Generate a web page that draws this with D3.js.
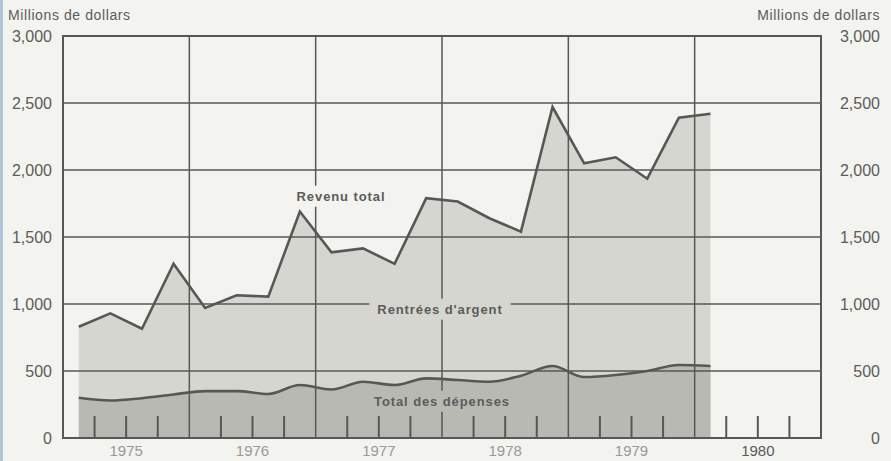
<!DOCTYPE html>
<html>
<head>
<meta charset="utf-8">
<script src="https://cdn.jsdelivr.net/npm/d3@7"></script>
<style>
  html, body { margin: 0; padding: 0; background: #f3f3ef; }
  svg { display: block; }
  text { font-family: "Liberation Sans", Arial, Helvetica, sans-serif; }
</style>
</head>
<body>
<svg id="chart" width="891" height="461"></svg>
<script>
// ---- Data (quarterly, 1975 Q1 – 1980 Q1), millions of dollars ----
const quarters = [
  "1975T1","1975T2","1975T3","1975T4",
  "1976T1","1976T2","1976T3","1976T4",
  "1977T1","1977T2","1977T3","1977T4",
  "1978T1","1978T2","1978T3","1978T4",
  "1979T1","1979T2","1979T3","1979T4",
  "1980T1"
];
const revenuTotal = [830, 930, 815, 1300, 970, 1065, 1055, 1690, 1385, 1415, 1300, 1790,
                     1765, 1640, 1540, 2470, 2050, 2095, 1935, 2390, 2420];
const totalDepenses = [300, 280, 297, 325, 350, 350, 328, 395, 362, 420, 395, 445,
                       433, 420, 465, 537, 455, 470, 500, 545, 537];
const years = [1975, 1976, 1977, 1978, 1979, 1980];
const yTicks = [0, 500, 1000, 1500, 2000, 2500, 3000];
const unitLabel = "Millions de dollars";
const seriesLabels = ["Revenu total", "Rentrées d'argent", "Total des dépenses"];

(function () {
// ---- Layout ----
const svg = d3.select("#chart");
const pL = 63, pR = 821, pT = 36, pB = 438;
const bg = "#f3f3ef", lightFill = "#d6d6d1", darkFill = "#b9b9b4";
const ink = "#575755", textCol = "#5c5c5a";

const x = d3.scaleLinear().domain([1975, 1981]).range([pL, pR]);
const y = d3.scaleLinear().domain([0, 3000]).range([pB, pT]);

// time value of each quarter (mid-quarter)
const tq = quarters.map(q => +q.slice(0, 4) + (+q.slice(5) - 0.5) / 4);
const data = quarters.map((q, i) => ({ t: tq[i], rev: revenuTotal[i], dep: totalDepenses[i] }));

svg.append("rect").attr("width", 891).attr("height", 461).attr("fill", bg);
// scan edge strip on the left
svg.append("rect").attr("x", 0).attr("y", 0).attr("width", 3).attr("height", 461).attr("fill", "#b4c6d6");

// ---- Areas ----
svg.append("path").datum(data)
  .attr("d", d3.area().x(d => x(d.t)).y0(y(0)).y1(d => y(d.rev)))
  .attr("fill", lightFill);
svg.append("path").datum(data)
  .attr("d", d3.area().curve(d3.curveMonotoneX).x(d => x(d.t)).y0(y(0)).y1(d => y(d.dep)))
  .attr("fill", darkFill);

// ---- Grid ----
const grid = svg.append("g").attr("stroke", ink).attr("stroke-width", 1.5);
yTicks.forEach(v => {
  grid.append("line").attr("x1", pL).attr("x2", pR).attr("y1", y(v)).attr("y2", y(v));
});
years.concat([1981]).forEach(yr => {
  grid.append("line").attr("x1", x(yr)).attr("x2", x(yr)).attr("y1", pT).attr("y2", pB);
});
// quarter ticks
years.forEach(yr => {
  [0.25, 0.5, 0.75].forEach(f => {
    grid.append("line").attr("x1", x(yr + f)).attr("x2", x(yr + f))
      .attr("y1", pB).attr("y2", pB - 22).attr("stroke-width", 2);
  });
});
// frame
svg.append("rect").attr("x", pL).attr("y", pT).attr("width", pR - pL).attr("height", pB - pT)
  .attr("fill", "none").attr("stroke", ink).attr("stroke-width", 2);

// ---- Lines ----
svg.append("path").datum(data)
  .attr("d", d3.line().x(d => x(d.t)).y(d => y(d.rev)))
  .attr("fill", "none").attr("stroke", ink).attr("stroke-width", 2.6).attr("stroke-linejoin", "miter");
svg.append("path").datum(data)
  .attr("d", d3.line().curve(d3.curveMonotoneX).x(d => x(d.t)).y(d => y(d.dep)))
  .attr("fill", "none").attr("stroke", ink).attr("stroke-width", 2.6);

// ---- Axis labels ----
const fmt = d3.format(",");
const yl = svg.append("g").attr("fill", textCol).attr("font-size", 16);
yTicks.forEach(v => {
  yl.append("text").attr("x", 52).attr("y", y(v)).attr("dy", "0.36em")
    .attr("text-anchor", "end").text(fmt(v));
  yl.append("text").attr("x", 880).attr("y", y(v)).attr("dy", "0.36em")
    .attr("text-anchor", "end").text(fmt(v));
});
svg.append("text").attr("x", 8).attr("y", 20).attr("font-size", 14).attr("letter-spacing", 0.6)
  .attr("fill", textCol).text(unitLabel);
svg.append("text").attr("x", 880).attr("y", 20).attr("font-size", 14).attr("letter-spacing", 0.6)
  .attr("text-anchor", "end").attr("fill", textCol).text(unitLabel);

years.forEach(yr => {
  svg.append("text").attr("x", x(yr + 0.5)).attr("y", 456).attr("text-anchor", "middle")
    .attr("font-size", 15).attr("fill", yr === 1980 ? "#5a5a58" : "#9a9a96").text(yr);
});

// ---- Series labels with masks ----
function label(txt, cx, cy, maskFill) {
  const t = svg.append("text").attr("x", cx).attr("y", cy).attr("dy", "0.36em")
    .attr("text-anchor", "middle").attr("font-size", 13).attr("font-weight", "bold")
    .attr("letter-spacing", 0.9).attr("fill", textCol).text(txt);
  const b = t.node().getBBox();
  svg.insert("rect", () => t.node())
    .attr("x", b.x - 8).attr("y", b.y - 3).attr("width", b.width + 16).attr("height", b.height + 6)
    .attr("fill", maskFill);
}
label(seriesLabels[0], 341, 196, bg);
label(seriesLabels[1], 440, 309, lightFill);
label(seriesLabels[2], 442, 401, darkFill);
})();
</script>
</body>
</html>
